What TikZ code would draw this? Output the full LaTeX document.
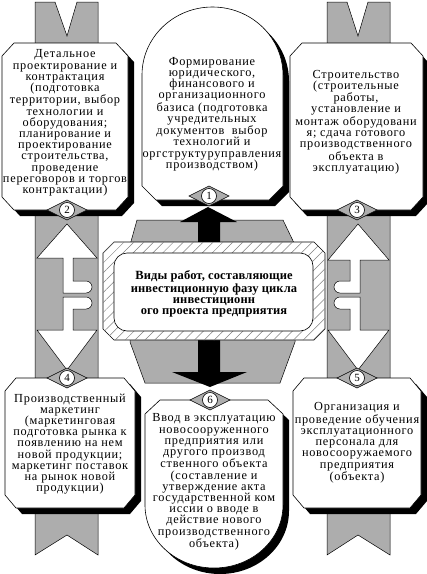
\documentclass[tikz,border=0pt]{standalone}
\usepackage{fontspec}
\setmainfont{Liberation Serif}
\newfontfamily\boxfont{Liberation Serif}[LetterSpace=6]
\newfontfamily\cenfont{Liberation Serif}[LetterSpace=1]
\usetikzlibrary{patterns.meta}
\definecolor{rib}{gray}{0.68}
\begin{document}
\begin{tikzpicture}[x=1pt,y=-1pt,line join=miter,
  ribbon/.style={fill=rib,draw=black,line width=0.5pt},
  whitearr/.style={fill=white,draw=black,line width=0.5pt},
  shad/.style={fill=black},
  boxfill/.style={fill=white,draw=black,line width=0.6pt},
  btext/.style={align=center,font=\boxfont\fontsize{12.3}{11.2}\selectfont,inner sep=0pt},
  ctext/.style={align=center,font=\cenfont\bfseries\fontsize{12.5}{11}\selectfont,inner sep=0pt},
  dia/.style={fill=rib,draw=black,line width=0.5pt},
  numc/.style={circle,fill=white,draw=black,line width=0.6pt,minimum size=15pt,inner sep=0pt,font=\fontsize{11}{11}\selectfont}]
\useasboundingbox (0,0) rectangle (427,574);
% ribbons
\path[ribbon] (35,2) -- (55,2) -- (67,36) -- (77,2) -- (98,2) -- (98,555) -- (67,535) -- (35,555) -- cycle;
\path[ribbon] (327,2) -- (347,2) -- (358,36) -- (368,2) -- (390,2) -- (390,555) -- (358,535) -- (327,555) -- cycle;
% white arrows left
\path[whitearr] (67,224) -- (97,258) -- (73,258) -- (73,281) -- (86,281) arc[start angle=-90,end angle=90,radius=6] -- (63,293) -- (63,258) -- (37,258) -- cycle;
\path[whitearr] (67,370) -- (97,330) -- (73,330) -- (73,309) -- (86,309) arc[start angle=90,end angle=-90,radius=6] -- (63,297) -- (63,330) -- (37,330) -- cycle;
% white arrows right
\path[whitearr] (358,224) -- (389,260) -- (360,260) -- (360,293) -- (340,293) arc[start angle=90,end angle=270,radius=6] -- (350,281) -- (350,260) -- (328,260) -- cycle;
\path[whitearr] (358,370) -- (389,330) -- (360,330) -- (360,297) -- (340,297) arc[start angle=-90,end angle=-270,radius=6] -- (350,309) -- (350,330) -- (328,330) -- cycle;
% centre gray plate and black arrows
\path[ribbon] (137,220) -- (283,220) -- (295,245) -- (295,342) -- (280,383) -- (145,383) -- (130,342) -- (130,245) -- cycle;
\fill[black] (198,242) -- (198,222) -- (180,222) -- (208,207) -- (237,222) -- (220,222) -- (220,242) -- cycle;
\fill[black] (198,340) -- (198,372) -- (172,372) -- (210,387) -- (247,372) -- (220,372) -- (220,340) -- cycle;
% hatched centre box
\path[draw=black,line width=0.6pt,fill=white,postaction={pattern={Lines[angle=45,distance=7pt,line width=0.5pt]},pattern color=gray}]
  (103,253) -- (114,242) -- (314,242) -- (325,253) -- (325,329) -- (314,340) -- (114,340) -- (103,329) -- cycle;
\draw[fill=white,line width=0.6pt,rounded corners=13pt] (114,253) rectangle (313,331);
\node[ctext] (c) at (214,294) {Виды работ, составляющие\\инвестиционную фазу цикла\\инвестиционн\\ого проекта предприятия};
% box 2
\path[shad,shift={(6,6)}] (2,56) -- (14,43) -- (116,43) -- (128,56) -- (128,197) -- (116,210) -- (14,210) -- (2,197) -- cycle;
\path[boxfill] (2,56) -- (14,43) -- (116,43) -- (128,56) -- (128,197) -- (116,210) -- (14,210) -- (2,197) -- cycle;
% box 3
\path[shad,shift={(5,6)}] (290,56) -- (302,43) -- (411,43) -- (423,56) -- (423,197) -- (411,210) -- (302,210) -- (290,197) -- cycle;
\path[boxfill] (290,56) -- (302,43) -- (411,43) -- (423,56) -- (423,197) -- (411,210) -- (302,210) -- (290,197) -- cycle;
% box 4
\path[shad,shift={(6,6)}] (5,391) -- (16,378) -- (124,378) -- (135,391) -- (135,495) -- (124,508) -- (16,508) -- (5,495) -- cycle;
\path[boxfill] (5,391) -- (16,378) -- (124,378) -- (135,391) -- (135,495) -- (124,508) -- (16,508) -- (5,495) -- cycle;
% box 5
\path[shad,shift={(6,6)}] (293,391) -- (304,378) -- (410,378) -- (421,391) -- (421,495) -- (410,508) -- (304,508) -- (293,495) -- cycle;
\path[boxfill] (293,391) -- (304,378) -- (410,378) -- (421,391) -- (421,495) -- (410,508) -- (304,508) -- (293,495) -- cycle;
% box 1
\path[shad,shift={(6,6)}] (142,186) -- (142,75) arc[start angle=180,end angle=360,x radius=70.5,y radius=68] -- (283,186) -- (269,200) -- (156,200) -- cycle;
\path[boxfill] (142,186) -- (142,75) arc[start angle=180,end angle=360,x radius=70.5,y radius=68] -- (283,186) -- (269,200) -- (156,200) -- cycle;
% box 6
\path[shad,shift={(6,6)}] (145,505) -- (145,414) -- (160,400) -- (268,400) -- (283,414) -- (283,505) arc[start angle=0,end angle=180,x radius=69,y radius=63] -- cycle;
\path[boxfill] (145,505) -- (145,414) -- (160,400) -- (268,400) -- (283,414) -- (283,505) arc[start angle=0,end angle=180,x radius=69,y radius=63] -- cycle;
% texts
\node[btext] (t2) at (65,123) {Детальное\\проектирование и\\контрактация\\(подготовка\\территории, выбор\\технологии и\\оборудования;\\планирование и\\проектирование\\строительства,\\проведение\\переговоров и торгов\\контрактации)};
\node[btext] (t1) at (212,114) {Формирование\\юридического,\\финансового и\\организационного\\базиса (подготовка\\учредительных\\документов\ \ выбор\\технологий и\\оргструктуруправления\\производством)};
\node[btext] (t3) at (356,122) {Строительство\\(строительные\\работы,\\установление и\\монтаж оборудовани\\я; сдача готового\\производственного\\объекта в\\эксплуатацию)};
\node[btext] (t4) at (70,444) {Производственный\\маркетинг\\(маркетинговая\\подготовка рынка к\\появлению на нем\\новой продукции;\\маркетинг поставок\\на рынок новой\\продукции)};
\node[btext] (t5) at (357,443) {Организация и\\проведение обучения\\эксплуатационного\\персонала для\\новосооружаемого\\предприятия\\(объекта)};
\node[btext] (t6) at (214,482) {Ввод в эксплуатацию\\новосооруженного\\предприятия или\\другого производ\\ственного объекта\\(составление и\\утверждение акта\\государственной ком\\иссии о вводе в\\действие нового\\производственного\\объекта)};
% number diamonds
\foreach \n/\x/\y in {1/209/196,2/67/210,3/357/210,4/67/378,5/357/378,6/210/400}{
  \path[dia] (\x-20,\y) -- (\x,\y-10) -- (\x+20,\y) -- (\x,\y+10) -- cycle;
  \node[numc] (num\n) at (\x,\y) {\n};
}
\end{tikzpicture}
\end{document}
